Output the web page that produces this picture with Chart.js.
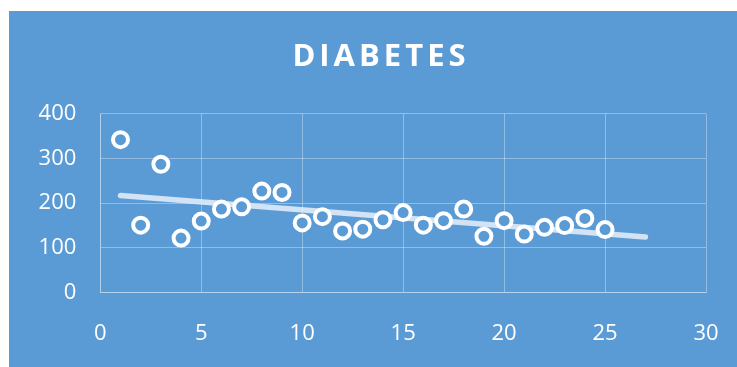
<!DOCTYPE html>
<html>
<head>
<meta charset="utf-8">
<title>Diabetes</title>
<script src="https://cdn.jsdelivr.net/npm/chart.js@4.4.1/dist/chart.umd.min.js"></script>
<style>
  html, body { margin: 0; padding: 0; background: #ffffff; }
  #wrap {
    position: absolute;
    left: 9px;
    top: 11px;
    width: 728px;
    height: 356px;
    background: #5b9bd5;
  }
</style>
</head>
<body>
<div id="wrap"><canvas id="diabetesChart" width="728" height="356"></canvas></div>
<script>
/* ================= DATA ================= */
const chartTitle = "DIABETES";
const days = [1, 2, 3, 4, 5, 6, 7, 8, 9, 10, 11, 12, 13, 14, 15, 16, 17, 18, 19, 20, 21, 22, 23, 24, 25];
const glucose = [342, 151, 287, 122, 160, 187, 192, 227, 224, 156, 170, 138, 142, 163, 179, 151, 161, 187, 126, 161, 131, 146, 150, 166, 141];
const trendRange = [1, 27];
const xTickValues = [0, 5, 10, 15, 20, 25, 30];
const yTickValues = [0, 100, 200, 300, 400];

/* ================= LINEAR TREND ================= */
function linearTrend(xs, ys, range) {
    const n = xs.length;
    const mx = xs.reduce((a, b) => a + b, 0) / n;
    const my = ys.reduce((a, b) => a + b, 0) / n;
    let num = 0, den = 0;
    for (let i = 0; i < n; i++) {
        num += (xs[i] - mx) * (ys[i] - my);
        den += (xs[i] - mx) * (xs[i] - mx);
    }
    const slope = num / den;
    const intercept = my - slope * mx;
    return range.map(x => ({ x: x, y: intercept + slope * x }));
}

const BLUE = "#5b9bd5";
const GRID = "rgba(255, 255, 255, 0.33)";
const TICK_FONT = { family: "'Open Sans', 'DejaVu Sans', sans-serif", size: 22 };

/* ================= TITLE (letter spaced) ================= */
const spacedTitle = {
    id: "spacedTitle",
    afterDraw(chart) {
        const ctx = chart.ctx;
        ctx.save();
        ctx.font = "bold 31px 'Open Sans', 'DejaVu Sans', sans-serif";
        ctx.fillStyle = "#ffffff";
        ctx.textAlign = "center";
        ctx.textBaseline = "middle";
        ctx.letterSpacing = "4px";
        ctx.fillText(chartTitle, 372, 46);
        ctx.restore();
    }
};

function drawChart() {
    const ctx = document.getElementById("diabetesChart").getContext("2d");

    new Chart(ctx, {
        type: "scatter",
        data: {
            datasets: [
                {
                    data: days.map((d, i) => ({ x: d, y: glucose[i] })),
                    pointRadius: 7.5,
                    pointBorderWidth: 4,
                    pointBorderColor: "#ffffff",
                    pointBackgroundColor: BLUE,
                    order: 0
                },
                {
                    type: "line",
                    data: linearTrend(days, glucose, trendRange),
                    showLine: true,
                    borderColor: "rgba(230, 240, 250, 0.85)",
                    borderWidth: 5.5,
                    borderCapStyle: "round",
                    pointRadius: 0,
                    fill: false,
                    order: 1
                }
            ]
        },
        options: {
            responsive: false,
            animation: false,
            layout: {
                padding: { top: 102.7, right: 31, bottom: 0, left: 0 }
            },
            plugins: {
                legend: { display: false },
                title: { display: false },
                tooltip: { enabled: false }
            },
            scales: {
                x: {
                    type: "linear",
                    min: 0,
                    max: 30,
                    afterBuildTicks: s => { s.ticks = xTickValues.map(v => ({ value: v })); },
                    afterFit: s => {
                        s.height = 74.3;
                        s.paddingLeft = 0;
                        s.paddingRight = 0;
                    },
                    grid: { color: GRID, lineWidth: 1, drawTicks: false },
                    border: { color: GRID, width: 1 },
                    ticks: {
                        color: "#ffffff",
                        font: TICK_FONT,
                        padding: 28,
                        maxRotation: 0
                    }
                },
                y: {
                    type: "linear",
                    min: 0,
                    max: 400,
                    afterBuildTicks: s => { s.ticks = yTickValues.map(v => ({ value: v })); },
                    afterFit: s => {
                        s.width = 91.3;
                        s.paddingTop = 0;
                        s.paddingBottom = 0;
                    },
                    grid: { color: GRID, lineWidth: 1, drawTicks: false },
                    border: { color: GRID, width: 1 },
                    ticks: {
                        color: "#ffffff",
                        font: TICK_FONT,
                        padding: 24
                    }
                }
            }
        },
        plugins: [spacedTitle]
    });
}

/* ================= INIT ================= */
Promise.all([
    document.fonts.load("22px 'Open Sans'"),
    document.fonts.load("bold 31px 'Open Sans'")
]).then(drawChart, drawChart);
</script>
</body>
</html>
